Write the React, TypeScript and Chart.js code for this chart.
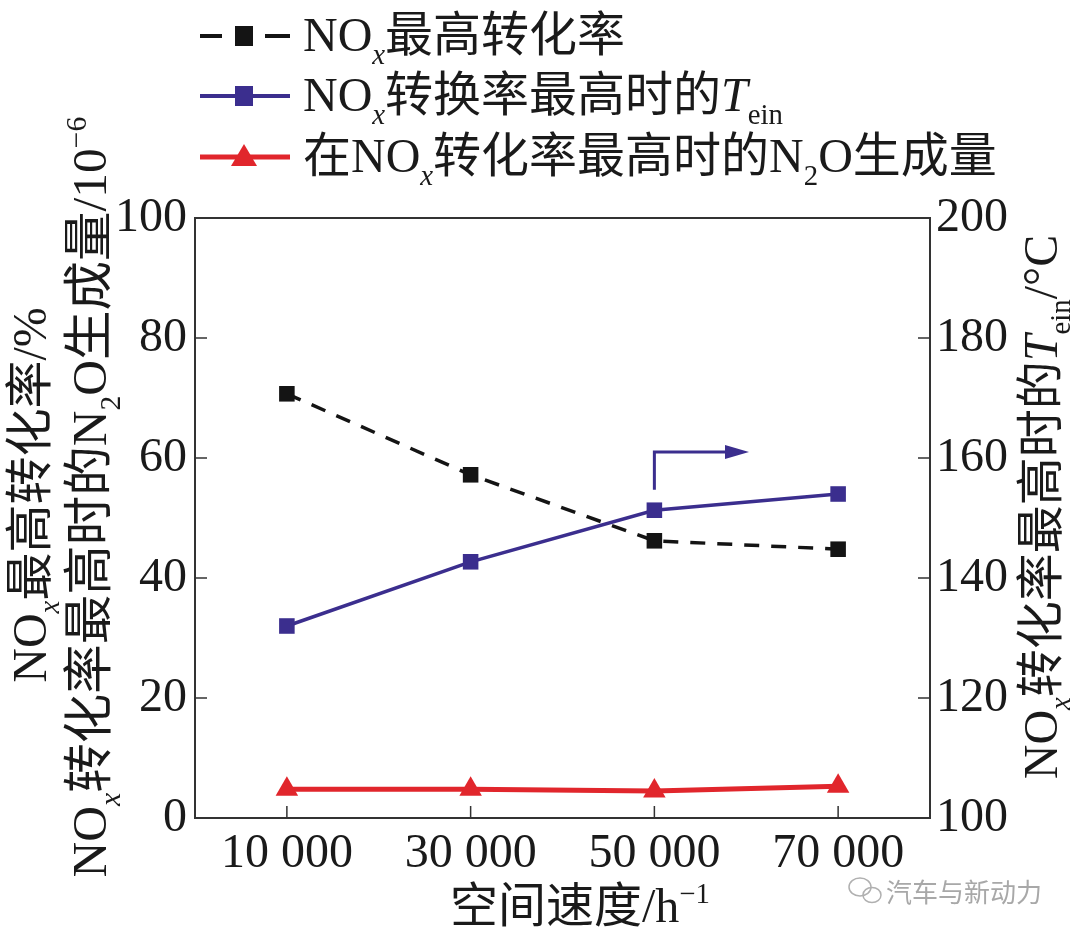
import React, { useEffect, useRef } from "react";
import { Chart, registerables } from "chart.js";
Chart.register(...registerables);

// ---- data ----
const spaceVelocity = [10000, 30000, 50000, 70000];
const xTickValues = [10000, 30000, 50000, 70000];
const xTickLabels = ["10 000", "30 000", "50 000", "70 000"];
const noxMaxConversion = [70.7, 57.2, 46.2, 44.8];
const teinAtMaxConversion = [132, 142.7, 151.3, 154];
const n2oAtMaxConversion = [4.8, 4.8, 4.5, 5.3];
const leftTickValues = [0, 20, 40, 60, 80, 100];
const rightTickValues = [100, 120, 140, 160, 180, 200];
// arrow annotation (x in space velocity, y on right axis)
const arrowX = [50000, 50000, 60300];
const arrowY = [154.7, 161, 161];

const FAM = '"Liberation Serif", "Noto Sans CJK SC", serif';
const BLACK = "#141414";
const BLUE = "#3b2e8e";
const RED = "#e1262c";

type Seg = { t: string; k?: "sub" | "sup"; it?: boolean };

function segFont(seg: Seg, size: number) {
  const s = seg.k ? size * 0.6 : size;
  return `${seg.it ? "italic " : ""}${s}px ${FAM}`;
}
function measureRich(ctx: CanvasRenderingContext2D, segs: Seg[], size: number) {
  let w = 0;
  for (const s of segs) {
    ctx.font = segFont(s, size);
    w += ctx.measureText(s.t).width;
  }
  return w;
}
function drawRich(
  ctx: CanvasRenderingContext2D,
  segs: Seg[],
  x: number,
  y: number,
  size: number,
  align: "left" | "center",
  rot: number,
  color: string
) {
  ctx.save();
  ctx.translate(x, y);
  ctx.rotate(rot);
  ctx.textBaseline = "alphabetic";
  ctx.textAlign = "left";
  ctx.fillStyle = color;
  const w = measureRich(ctx, segs, size);
  let cx = align === "center" ? -w / 2 : 0;
  for (const s of segs) {
    ctx.font = segFont(s, size);
    const dy = s.k === "sub" ? size * 0.28 : s.k === "sup" ? -size * 0.4 : 0;
    ctx.fillText(s.t, cx, dy);
    cx += ctx.measureText(s.t).width;
  }
  ctx.restore();
}

const legendItems: { segs: Seg[]; color: string; kind: string }[] = [
  { segs: [{ t: "NO" }, { t: "x", k: "sub", it: true }, { t: "最高转化率" }], color: BLACK, kind: "dash" },
  {
    segs: [{ t: "NO" }, { t: "x", k: "sub", it: true }, { t: "转换率最高时的" }, { t: "T", it: true }, { t: "ein", k: "sub" }],
    color: BLUE,
    kind: "blue",
  },
  {
    segs: [{ t: "在NO" }, { t: "x", k: "sub", it: true }, { t: "转化率最高时的N" }, { t: "2", k: "sub" }, { t: "O生成量" }],
    color: RED,
    kind: "red",
  },
];

const overlayPlugin = {
  id: "overlay",
  afterDraw(chart: any) {
    const ctx: CanvasRenderingContext2D = chart.ctx;
    const { left, right, top, bottom } = chart.chartArea;
    const xs = chart.scales.x;
    const ys = chart.scales.y;
    const y1 = chart.scales.y1;
    ctx.save();
    // frame
    ctx.strokeStyle = "#333";
    ctx.lineWidth = 2;
    ctx.strokeRect(left, top, right - left, bottom - top);
    // inward ticks
    ctx.lineWidth = 1.5;
    ctx.beginPath();
    for (const v of leftTickValues.slice(1, -1)) {
      const py = ys.getPixelForValue(v);
      ctx.moveTo(left, py);
      ctx.lineTo(left + 12, py);
    }
    for (const v of rightTickValues.slice(1, -1)) {
      const py = y1.getPixelForValue(v);
      ctx.moveTo(right, py);
      ctx.lineTo(right - 12, py);
    }
    for (const v of xTickValues) {
      const px = xs.getPixelForValue(v);
      ctx.moveTo(px, bottom);
      ctx.lineTo(px, bottom - 12);
    }
    ctx.stroke();

    // arrow annotation
    ctx.strokeStyle = BLUE;
    ctx.fillStyle = BLUE;
    ctx.lineWidth = 3;
    ctx.beginPath();
    const pts = arrowX.map((v, i) => [xs.getPixelForValue(v), y1.getPixelForValue(arrowY[i])]);
    ctx.moveTo(pts[0][0], pts[0][1]);
    ctx.lineTo(pts[1][0], pts[1][1]);
    ctx.lineTo(pts[2][0] - 18, pts[2][1]);
    ctx.stroke();
    ctx.beginPath();
    ctx.moveTo(pts[2][0], pts[2][1]);
    ctx.lineTo(pts[2][0] - 24, pts[2][1] - 7);
    ctx.lineTo(pts[2][0] - 24, pts[2][1] + 7);
    ctx.closePath();
    ctx.fill();

    // legend
    const lyCenters = [36, 96, 157];
    legendItems.forEach((it, i) => {
      const cy = lyCenters[i];
      ctx.strokeStyle = it.color;
      ctx.fillStyle = it.color;
      ctx.lineWidth = it.kind === "red" ? 5 : 4;
      ctx.beginPath();
      if (it.kind === "dash") {
        ctx.moveTo(200, cy);
        ctx.lineTo(222, cy);
        ctx.moveTo(265, cy);
        ctx.lineTo(290, cy);
      } else {
        ctx.moveTo(200, cy);
        ctx.lineTo(290, cy);
      }
      ctx.stroke();
      if (it.kind === "red") {
        ctx.beginPath();
        ctx.moveTo(244, cy - 13);
        ctx.lineTo(257, cy + 9);
        ctx.lineTo(231, cy + 9);
        ctx.closePath();
        ctx.fill();
      } else {
        ctx.fillRect(235, cy - 10, 18, 20);
      }
      drawRich(ctx, it.segs, 303, cy + 15, 48, "left", 0, "#1a1a1a");
    });

    // axis titles
    drawRich(
      ctx,
      [{ t: "NO" }, { t: "x", k: "sub", it: true }, { t: "最高转化率/%" }],
      46,
      495,
      48,
      "center",
      -Math.PI / 2,
      "#1a1a1a"
    );
    drawRich(
      ctx,
      [
        { t: "NO" },
        { t: "x", k: "sub", it: true },
        { t: "转化率最高时的N" },
        { t: "2", k: "sub" },
        { t: "O生成量/10" },
        { t: "−6", k: "sup" },
      ],
      106,
      497,
      49.5,
      "center",
      -Math.PI / 2,
      "#1a1a1a"
    );
    drawRich(
      ctx,
      [
        { t: "NO" },
        { t: "x", k: "sub", it: true },
        { t: "转化率最高时的" },
        { t: "T", it: true },
        { t: "ein", k: "sub" },
        { t: "/°C" },
      ],
      1057,
      507,
      48,
      "center",
      -Math.PI / 2,
      "#1a1a1a"
    );
    drawRich(ctx, [{ t: "空间速度/h" }, { t: "−1", k: "sup" }], 580, 922, 48, "center", 0, "#1a1a1a");

    // watermark
    ctx.strokeStyle = "#b0b0b0";
    ctx.lineWidth = 1.5;
    ctx.beginPath();
    ctx.ellipse(860, 887, 11, 9, 0, 0, Math.PI * 2);
    ctx.stroke();
    ctx.beginPath();
    ctx.ellipse(872, 895, 9, 7.5, 0, 0, Math.PI * 2);
    ctx.stroke();
    ctx.fillStyle = "#a8a8a8";
    ctx.font = `26px "Noto Sans CJK SC", sans-serif`;
    ctx.textBaseline = "middle";
    ctx.textAlign = "left";
    ctx.fillText("汽车与新动力", 886, 892);
    ctx.restore();
  },
};

export default function App() {
  const ref = useRef<HTMLCanvasElement | null>(null);
  useEffect(() => {
    document.body.style.margin = "0";
    const canvas = ref.current!;
    const tickFont = { family: '"Liberation Serif", serif', size: 48 };
    const chart = new Chart(canvas, {
      type: "line",
      data: {
        datasets: [
          {
            label: "NOx最高转化率",
            data: spaceVelocity.map((x, i) => ({ x, y: noxMaxConversion[i] })),
            yAxisID: "y",
            borderColor: BLACK,
            backgroundColor: BLACK,
            borderWidth: 3.5,
            borderDash: [15, 12],
            pointStyle: "rect",
            pointRadius: 11,
            pointBorderWidth: 0,
          },
          {
            label: "NOx转换率最高时的Tein",
            data: spaceVelocity.map((x, i) => ({ x, y: teinAtMaxConversion[i] })),
            yAxisID: "y1",
            borderColor: BLUE,
            backgroundColor: BLUE,
            borderWidth: 3.5,
            pointStyle: "rect",
            pointRadius: 11,
            pointBorderWidth: 0,
          },
          {
            label: "在NOx转化率最高时的N2O生成量",
            data: spaceVelocity.map((x, i) => ({ x, y: n2oAtMaxConversion[i] })),
            yAxisID: "y",
            borderColor: RED,
            backgroundColor: RED,
            borderWidth: 5,
            pointStyle: "triangle",
            pointRadius: 13,
            pointBorderWidth: 0,
          },
        ],
      },
      options: {
        responsive: false,
        animation: false,
        layout: { padding: { top: 218, left: 0, right: 0, bottom: 0 } },
        plugins: { legend: { display: false }, tooltip: { enabled: false } },
        scales: {
          x: {
            type: "linear",
            min: 0,
            max: 80000,
            afterBuildTicks: (s: any) => {
              s.ticks = xTickValues.map((v) => ({ value: v }));
            },
            afterFit: (s: any) => {
              s.height = 124;
            },
            ticks: {
              font: tickFont,
              color: "#1a1a1a",
              padding: 8,
              maxRotation: 0,
              autoSkip: false,
              callback: (v: any) => xTickLabels[xTickValues.indexOf(Number(v))] ?? "",
            },
            grid: { display: false, drawTicks: false },
            border: { display: false },
          },
          y: {
            type: "linear",
            position: "left",
            min: 0,
            max: 100,
            afterBuildTicks: (s: any) => {
              s.ticks = leftTickValues.map((v) => ({ value: v }));
            },
            afterFit: (s: any) => {
              s.width = 195;
            },
            ticks: { font: tickFont, color: "#1a1a1a", padding: 8 },
            grid: { display: false, drawTicks: false },
            border: { display: false },
          },
          y1: {
            type: "linear",
            position: "right",
            min: 100,
            max: 200,
            afterBuildTicks: (s: any) => {
              s.ticks = rightTickValues.map((v) => ({ value: v }));
            },
            afterFit: (s: any) => {
              s.width = 150;
            },
            ticks: { font: tickFont, color: "#1a1a1a", padding: 6 },
            grid: { display: false, drawTicks: false },
            border: { display: false },
          },
        },
      },
      plugins: [overlayPlugin],
    } as any);
    return () => chart.destroy();
  }, []);
  return (
    <div style={{ position: "absolute", left: 0, top: 0, width: 1080, height: 942, background: "#fff" }}>
      <canvas ref={ref} width={1080} height={942} style={{ width: 1080, height: 942 }} />
    </div>
  );
}
